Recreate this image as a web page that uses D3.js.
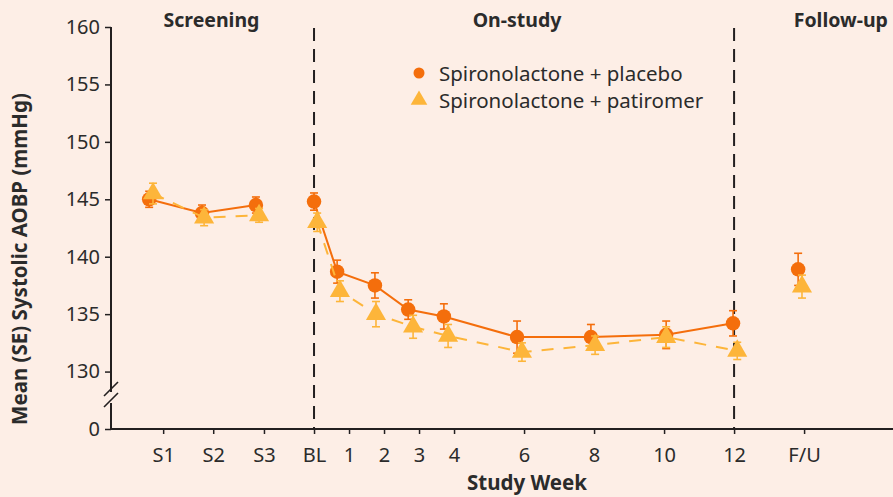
<!DOCTYPE html>
<html>
<meta charset="utf-8">
<head>
	<title>AOBP by study week</title>
	<script src="https://cdn.jsdelivr.net/npm/d3@7/dist/d3.min.js" charset="utf-8"></script>
	<style>
		body { margin: 0; background: #fdeee6; }
		text { font-family: "Noto Sans", sans-serif; fill: #2b2b2b; }
	</style>
</head>
<body>
	<script type="text/javascript">
		// tick labels on the x axis and where they sit (in weeks from baseline)
		var tickLabels = ['S1', 'S2', 'S3', 'BL', '1', '2', '3', '4', '6', '8', '10', '12', 'F/U'];
		var tickWeeks = [-4.31, -2.88, -1.43, 0, 1, 2, 3, 4, 6, 8, 10, 12, 14];
		var yTicks = [125, 130, 135, 140, 145, 150, 155, 160];

		// which phase each visit belongs to (lines only join within a phase)
		var phase = ['s', 's', 's', 'o', 'o', 'o', 'o', 'o', 'o', 'o', 'o', 'o', 'f'];

		var placeboX = [-4.71, -3.2, -1.66, 0, 0.66, 1.74, 2.69, 3.71, 5.8, 7.91, 10.06, 11.97, 13.83];
		var placeboMean = [145.0, 143.8, 144.5, 144.8, 138.7, 137.5, 135.4, 134.8, 133.0, 133.0, 133.2, 134.2, 138.9];
		var placeboSE = [0.7, 0.7, 0.7, 0.75, 1.0, 1.1, 0.85, 1.1, 1.4, 1.1, 1.2, 1.1, 1.4];

		var patiromerX = [-4.6, -3.14, -1.57, 0.09, 0.74, 1.77, 2.83, 3.83, 5.94, 8.03, 10.06, 12.09, 13.94];
		var patiromerMean = [145.5, 143.4, 143.6, 143.0, 137.0, 135.0, 133.9, 133.1, 131.7, 132.3, 133.0, 131.8, 137.4];
		var patiromerSE = [0.9, 0.7, 0.6, 0.8, 0.9, 1.1, 1.0, 1.0, 0.8, 0.8, 0.9, 0.75, 1.0];

		var phaseNames = ['Screening', 'On-study', 'Follow-up'];
		var phaseMid = [-2.93, 5.8, 15.05];
		var dividers = [0, 12];

		var orange = '#f46e0c', gold = '#fdb53a', ink = '#231f20';

		var width = 893, height = 497;
		var svg = d3.select('body').append('svg')
			.attr('width', width)
			.attr('height', height);

		var x = d3.scaleLinear().domain([-5.8, 16.54]).range([111, 893]);
		var y = d3.scaleLinear().domain([125, 160]).range([429, 27]);

		// y axis with a break between 0 and 130
		var yAxis = svg.append('g')
			.attr('transform', 'translate(111,0)')
			.call(d3.axisLeft(y).tickValues(yTicks).tickSize(6).tickPadding(5)
				.tickFormat(function(d) { return d === 125 ? '0' : d; }));
		yAxis.select('.domain').remove();
		yAxis.selectAll('.tick line').attr('stroke', ink).attr('stroke-width', 1.5);
		yAxis.selectAll('.tick text').style('font-size', '20px').attr('fill', '#333');
		yAxis.append('line').attr('x1', 0).attr('x2', 0).attr('y1', y(160)).attr('y2', 392)
			.attr('stroke', ink).attr('stroke-width', 2);
		yAxis.append('line').attr('x1', 0).attr('x2', 0).attr('y1', 403).attr('y2', y(125))
			.attr('stroke', ink).attr('stroke-width', 2);
		[389, 400].forEach(function(b) {
			yAxis.append('line').attr('x1', -7).attr('x2', 7).attr('y1', b + 7).attr('y2', b - 7)
				.attr('stroke', ink).attr('stroke-width', 1.6);
		});

		// x axis
		var xAxis = svg.append('g')
			.attr('transform', 'translate(0,' + y(125) + ')')
			.call(d3.axisBottom(x).tickValues(tickWeeks).tickSize(5).tickPadding(14)
				.tickFormat(function(d, i) { return tickLabels[i]; }));
		xAxis.select('.domain').attr('d', 'M111,0H893').attr('stroke', ink).attr('stroke-width', 2);
		xAxis.selectAll('.tick line').attr('stroke', ink).attr('stroke-width', 1.5);
		xAxis.selectAll('.tick text').style('font-size', '20px').attr('fill', '#333');

		// phase dividers
		svg.selectAll('.divider').data(dividers).enter().append('line')
			.attr('x1', function(d) { return x(d); }).attr('x2', function(d) { return x(d); })
			.attr('y1', 28).attr('y2', y(125))
			.attr('stroke', ink).attr('stroke-width', 2).attr('stroke-dasharray', '13,8');

		svg.selectAll('.phase').data(phaseNames).enter().append('text')
			.attr('x', function(d, i) { return x(phaseMid[i]); })
			.attr('y', 27)
			.attr('text-anchor', 'middle')
			.style('font-size', '19.5px').style('font-weight', 'bold')
			.text(function(d) { return d; });

		// axis titles
		svg.append('text')
			.attr('transform', 'translate(27,259) rotate(-90)')
			.attr('text-anchor', 'middle')
			.style('font-size', '20.5px').style('font-weight', 'bold')
			.text('Mean (SE) Systolic AOBP (mmHg)');
		svg.append('text')
			.attr('x', 527).attr('y', 490)
			.attr('text-anchor', 'middle')
			.style('font-size', '20.5px').style('font-weight', 'bold')
			.text('Study Week');

		function drawSeries(xs, means, ses, color, dash, symbol) {
			var pts = means.map(function(m, i) { return {x: xs[i], m: m, se: ses[i], p: phase[i]}; });
			var line = d3.line().x(function(d) { return x(d.x); }).y(function(d) { return y(d.m); });
			var g = svg.append('g');
			d3.groups(pts, function(d) { return d.p; }).forEach(function(grp) {
				if (grp[1].length < 2) return;
				g.append('path').datum(grp[1]).attr('d', line)
					.attr('fill', 'none').attr('stroke', color).attr('stroke-width', 2)
					.attr('stroke-dasharray', dash);
			});
			var eb = g.selectAll('.eb').data(pts).enter().append('g').attr('stroke', color).attr('stroke-width', 1.6);
			eb.append('line')
				.attr('x1', function(d) { return x(d.x); }).attr('x2', function(d) { return x(d.x); })
				.attr('y1', function(d) { return y(d.m + d.se); }).attr('y2', function(d) { return y(d.m - d.se); });
			[1, -1].forEach(function(s) {
				eb.append('line')
					.attr('x1', function(d) { return x(d.x) - 4; }).attr('x2', function(d) { return x(d.x) + 4; })
					.attr('y1', function(d) { return y(d.m + s * d.se); }).attr('y2', function(d) { return y(d.m + s * d.se); });
			});
			g.selectAll('.mk').data(pts).enter().append('path')
				.attr('transform', function(d) { return 'translate(' + x(d.x) + ',' + y(d.m) + ')'; })
				.attr('d', symbol)
				.attr('fill', color);
		}

		var circle = d3.symbol().type(d3.symbolCircle).size(165)();
		var tri = d3.symbol().type(d3.symbolTriangle).size(175)();
		drawSeries(placeboX, placeboMean, placeboSE, orange, null, circle);
		drawSeries(patiromerX, patiromerMean, patiromerSE, gold, '12,10', tri);

		// legend
		var legend = [
			{label: 'Spironolactone + placebo', color: orange, sym: d3.symbol().type(d3.symbolCircle).size(95)()},
			{label: 'Spironolactone + patiromer', color: gold, sym: d3.symbol().type(d3.symbolTriangle).size(120)()}
		];
		var lg = svg.selectAll('.lg').data(legend).enter().append('g')
			.attr('transform', function(d, i) { return 'translate(419,' + (73 + i * 27) + ')'; });
		lg.append('path').attr('d', function(d) { return d.sym; }).attr('fill', function(d) { return d.color; });
		lg.append('text').attr('x', 20).attr('y', 8)
			.style('font-size', '20.5px')
			.text(function(d) { return d.label; });
	</script>
</body>
</html>
